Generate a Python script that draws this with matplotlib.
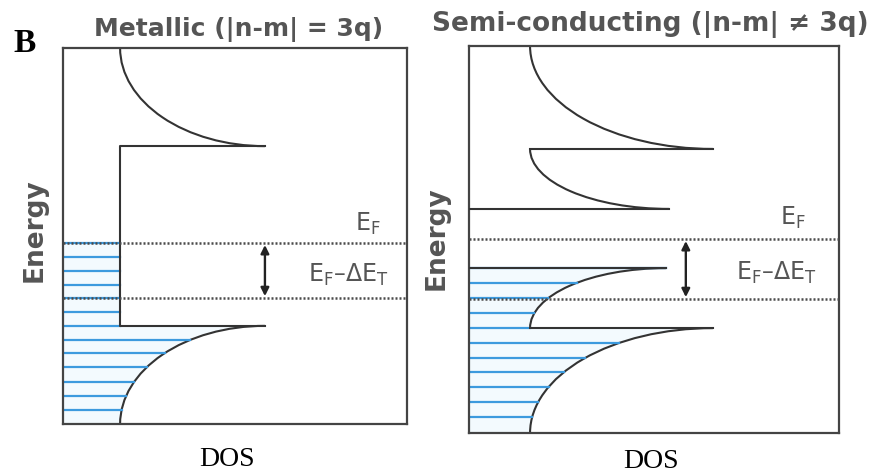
import numpy as np
import matplotlib.pyplot as plt
from matplotlib.patches import Arc

plt.rcParams['mathtext.fontset'] = 'dejavusans'

# all values are fractions of each panel box (DOS across, energy up)

# metallic panel
met_base, met_peak = 0.166, 0.587
met_cond_edge, met_val_edge = 0.739, 0.261
met_ef, met_ef_dt = 0.481, 0.335
met_levels = [0.481, 0.444, 0.407, 0.370, 0.335, 0.298, 0.261,
              0.223, 0.189, 0.152, 0.112, 0.074, 0.037]

# semiconducting panel
sc_base = 0.165
sc_c2_edge, sc_c2_peak = 0.734, 0.659
sc_c1_edge, sc_c1_peak = 0.579, 0.541
sc_v1_edge, sc_v1_peak = 0.426, 0.532
sc_v2_edge, sc_v2_peak = 0.271, 0.659
sc_ef, sc_ef_dt = 0.501, 0.346
sc_arrow_x = 0.586
sc_levels = [0.426, 0.388, 0.349, 0.310, 0.271, 0.233, 0.194,
             0.158, 0.119, 0.080, 0.041]

W, H = 876, 475
LINE = '#333333'
BLUE = '#3c9ade'
GRAY = '#555555'


def box(l, t, r, b):
    return [l / W, 1 - b / H, (r - l) / W, (b - t) / H]


def up_curve(ax, base, peak, edge, top):
    # band above an edge: singular at the edge, falls back to base above
    ax.add_patch(Arc((peak, top), 2 * (peak - base), 2 * (top - edge),
                     theta1=180, theta2=270, color=LINE, lw=1.5))


def down_curve(ax, base, peak, edge, bottom):
    ax.add_patch(Arc((peak, bottom), 2 * (peak - base), 2 * (edge - bottom),
                     theta1=90, theta2=180, color=LINE, lw=1.5))


def down_x(e, base, peak, edge, bottom):
    u = np.clip((e - bottom) / (edge - bottom), 0, 1)
    return peak - (peak - base) * np.sqrt(1 - u ** 2)


def frame(ax):
    ax.set_xlim(0, 1)
    ax.set_ylim(0, 1)
    ax.set_xticks([])
    ax.set_yticks([])
    for s in ax.spines.values():
        s.set_color('#444444')
        s.set_linewidth(1.6)


def ef_lines(ax, ef, ef_dt, ax_x):
    for y in (ef, ef_dt):
        ax.plot([0, 1], [y, y], color='#4a4a4a', lw=1.8, ls=(0, (0.8, 0.8)), zorder=4)
    ax.annotate('', xy=(ax_x, ef_dt + 0.005), xytext=(ax_x, ef - 0.005),
                arrowprops=dict(arrowstyle='<|-|>', color='#222222', lw=1.7,
                                mutation_scale=12, shrinkA=0, shrinkB=0))


def ef_text(ax, x1, y1, x2, y2):
    ax.text(x1, y1, r'E$_\mathrm{F}$', color=GRAY, fontsize=17,
            ha='center', va='center')
    ax.text(x2, y2, r'E$_\mathrm{F}$–ΔE$_\mathrm{T}$', color=GRAY, fontsize=17,
            ha='center', va='center')


fig = plt.figure(figsize=(W / 100, H / 100), dpi=100)

# ---- metallic ----
ax1 = fig.add_axes(box(63, 48, 407, 424))
frame(ax1)


def met_x(e):
    return np.where(e >= met_val_edge, met_base,
                    down_x(e, met_base, met_peak, met_val_edge, 0))


ee = np.linspace(0, met_levels[0], 200)
ax1.fill_betweenx(ee, 0, met_x(ee), color='#f3fafe', lw=0, zorder=1)
for e in met_levels:
    ax1.plot([0, float(met_x(e))], [e, e], color=BLUE, lw=1.6, zorder=2)

up_curve(ax1, met_base, met_peak, met_cond_edge, 1)
down_curve(ax1, met_base, met_peak, met_val_edge, 0)
ax1.plot([met_peak, met_base, met_base, met_peak],
         [met_cond_edge, met_cond_edge, met_val_edge, met_val_edge],
         color=LINE, lw=1.5, zorder=3)
ef_lines(ax1, met_ef, met_ef_dt, met_peak)
ef_text(ax1, 0.885, met_ef + 0.05, 0.83, (met_ef + met_ef_dt) / 2 - 0.012)

# ---- semiconducting ----
ax2 = fig.add_axes(box(469, 46, 839, 433))
frame(ax2)


def sc_x(e):
    return np.where(e >= sc_v2_edge,
                    down_x(e, sc_base, sc_v1_peak, sc_v1_edge, sc_v2_edge),
                    down_x(e, sc_base, sc_v2_peak, sc_v2_edge, 0))


ee = np.linspace(0, sc_levels[0], 200)
ax2.fill_betweenx(ee, 0, sc_x(ee), color='#f3fafe', lw=0, zorder=1)
for e in sc_levels:
    ax2.plot([0, float(sc_x(e))], [e, e], color=BLUE, lw=1.6, zorder=2)

up_curve(ax2, sc_base, sc_c2_peak, sc_c2_edge, 1)
up_curve(ax2, sc_base, sc_c1_peak, sc_c1_edge, sc_c2_edge)
down_curve(ax2, sc_base, sc_v1_peak, sc_v1_edge, sc_v2_edge)
down_curve(ax2, sc_base, sc_v2_peak, sc_v2_edge, 0)
ax2.plot([sc_base, sc_c2_peak], [sc_c2_edge] * 2, color=LINE, lw=1.5, zorder=3)
ax2.plot([0, sc_c1_peak], [sc_c1_edge] * 2, color=LINE, lw=1.5, zorder=3)
ax2.plot([0, sc_v1_peak], [sc_v1_edge] * 2, color=LINE, lw=1.5, zorder=3)
ax2.plot([sc_base, sc_v2_peak], [sc_v2_edge] * 2, color=LINE, lw=1.5, zorder=3)
ef_lines(ax2, sc_ef, sc_ef_dt, sc_arrow_x)
ef_text(ax2, 0.875, sc_ef + 0.055, 0.83, (sc_ef + sc_ef_dt) / 2 - 0.01)

# ---- labels ----
fig.text(239 / W, 1 - 29 / H, 'Metallic (|n-m| = 3q)', color=GRAY, fontsize=18,
         fontweight='bold', ha='center', va='center')
fig.text(650 / W, 1 - 24 / H, 'Semi-conducting (|n-m| ≠ 3q)', color=GRAY, fontsize=19,
         fontweight='bold', ha='center', va='center')
fig.text(25 / W, 1 - 44 / H, 'B', fontsize=24, fontweight='bold',
         family='Liberation Serif', ha='center', va='center')
for x, y in ((227, 459), (651, 462)):
    fig.text(x / W, 1 - y / H, 'DOS', fontsize=20, family='Liberation Serif',
             ha='center', va='center')
for x, y in ((35, 230), (437, 238)):
    fig.text(x / W, 1 - y / H, 'Energy', color=GRAY, fontsize=19, fontweight='bold',
             rotation=90, ha='center', va='center')

fig.savefig('out.png', dpi=100)
